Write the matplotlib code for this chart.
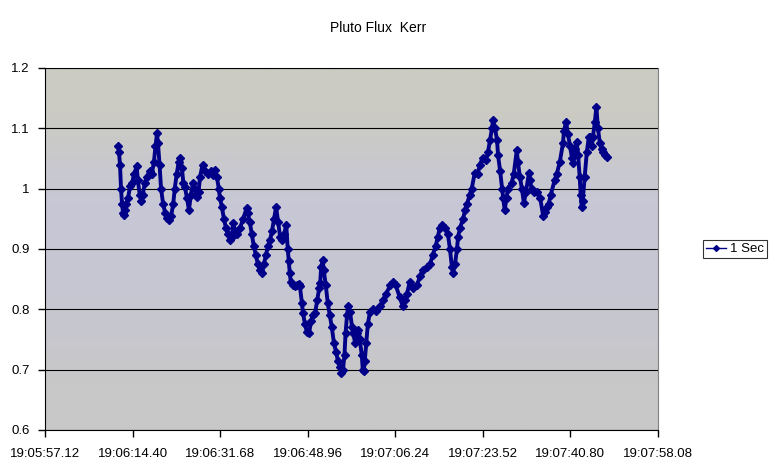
import numpy as np
from matplotlib import pyplot as plt

# seconds after 19:05:57.12
times = [14.4, 14.6, 14.8, 15.0, 15.2, 15.4, 15.6, 15.8, 16.0, 16.4, 16.8, 17.2, 17.6, 18.1,
         18.3, 18.7, 19.0, 19.3, 19.7, 20.1, 20.7, 21.1, 21.5, 21.8, 22.1, 22.3, 22.6, 22.9,
         23.3, 23.7, 24.1, 24.5, 24.9, 25.3, 25.6, 26.0, 26.4, 26.6, 27.0, 27.3, 27.6, 28.0,
         28.4, 28.8, 29.2, 29.6, 30.0, 30.3, 30.6, 31.1, 31.6, 32.2, 32.7, 33.1, 33.5, 33.9,
         34.3, 34.5, 34.9, 35.3, 35.7, 36.1, 36.5, 36.9, 37.1, 37.5, 37.9, 38.5, 39.1, 39.8,
         40.0, 40.4, 40.8, 41.2, 41.6, 42.0, 42.4, 42.8, 43.2, 43.6, 44.0, 44.4, 44.8, 45.2,
         45.6, 46.0, 46.4, 46.8, 47.2, 47.6, 47.9, 48.1, 48.3, 48.5, 48.9, 49.3, 49.7, 50.1,
         50.3, 50.7, 50.9, 51.3, 51.7, 52.1, 52.5, 52.9, 53.3, 53.7, 54.1, 54.3, 54.5, 54.8,
         55.0, 55.4, 55.8, 56.2, 56.6, 57.0, 57.4, 57.8, 58.2, 58.5, 58.8, 59.1, 59.3, 59.6,
         59.8, 60.2, 60.6, 60.8, 61.2, 61.6, 61.7, 62.1, 62.5, 62.7, 62.9, 63.1, 63.4, 63.7,
         64.1, 64.7, 65.3, 66.1, 66.7, 67.3, 68.1, 68.7, 69.2, 70.0, 70.6, 71.0, 71.4, 72.0,
         72.6, 73.4, 74.0, 74.6, 75.4, 76.0, 76.5, 77.1, 77.5, 77.9, 78.3, 78.9, 79.5, 79.9,
         80.3, 80.5, 80.9, 81.3, 81.5, 81.9, 82.5, 82.9, 83.3, 83.8, 84.2, 84.8, 85.4, 85.8,
         86.4, 87.0, 87.4, 87.8, 88.2, 88.4, 88.8, 89.2, 89.4, 89.8, 90.2, 90.4, 90.7, 91.1,
         91.3, 92.1, 92.5, 93.1, 93.3, 93.7, 94.1, 94.5, 94.9, 95.5, 95.7, 96.0, 96.5, 97.1,
         97.7, 98.3, 98.6, 99.0, 99.4, 99.8, 100.6, 101.0, 101.6, 102.2, 102.4, 102.8, 103.2,
         103.6, 104.0, 104.2, 104.6, 104.9, 105.2, 105.5, 105.7, 105.9, 106.1, 106.5, 106.9,
         107.3, 107.5, 107.9, 108.1, 108.5, 108.8, 109.1, 109.5, 109.9, 110.1, 110.5, 110.9]

flux = [1.070, 1.060, 1.040, 1.000, 0.975, 0.960, 0.957, 0.965, 0.975, 0.985, 1.005, 1.010,
        1.025, 1.037, 1.015, 0.990, 0.980, 0.990, 1.010, 1.020, 1.030, 1.025, 1.045, 1.070,
        1.092, 1.075, 1.040, 1.000, 0.975, 0.960, 0.952, 0.948, 0.955, 0.975, 1.000, 1.025,
        1.045, 1.051, 1.035, 1.010, 1.003, 0.985, 0.965, 0.990, 1.010, 1.000, 0.987, 0.995,
        1.020, 1.040, 1.030, 1.025, 1.030, 1.022, 1.031, 1.020, 1.000, 0.985, 0.970, 0.950,
        0.935, 0.925, 0.915, 0.920, 0.943, 0.930, 0.925, 0.935, 0.950, 0.968, 0.960, 0.945,
        0.925, 0.905, 0.890, 0.875, 0.865, 0.861, 0.875, 0.890, 0.905, 0.915, 0.930, 0.950,
        0.970, 0.945, 0.920, 0.915, 0.925, 0.940, 0.900, 0.880, 0.860, 0.845, 0.840, 0.838,
        0.840, 0.842, 0.838, 0.810, 0.794, 0.775, 0.762, 0.760, 0.780, 0.790, 0.794, 0.815,
        0.835, 0.844, 0.870, 0.882, 0.865, 0.840, 0.810, 0.790, 0.770, 0.745, 0.730, 0.715,
        0.705, 0.695, 0.700, 0.725, 0.760, 0.790, 0.805, 0.795, 0.770, 0.760, 0.745, 0.760,
        0.766, 0.750, 0.725, 0.700, 0.697, 0.715, 0.745, 0.775, 0.795, 0.800, 0.797, 0.805,
        0.815, 0.825, 0.840, 0.846, 0.840, 0.820, 0.805, 0.815, 0.825, 0.846, 0.835, 0.840,
        0.855, 0.866, 0.870, 0.875, 0.890, 0.905, 0.920, 0.935, 0.940, 0.935, 0.925, 0.900,
        0.870, 0.860, 0.875, 0.900, 0.920, 0.935, 0.950, 0.965, 0.975, 0.990, 1.000, 1.026,
        1.025, 1.040, 1.051, 1.048, 1.060, 1.080, 1.100, 1.114, 1.100, 1.080, 1.055, 1.030,
        1.000, 0.985, 0.965, 0.985, 1.000, 1.010, 1.025, 1.064, 1.045, 1.020, 1.000, 0.976,
        0.995, 1.026, 1.015, 1.000, 0.995, 0.995, 0.985, 0.955, 0.962, 0.970, 0.975, 0.990,
        1.015, 1.025, 1.045, 1.075, 1.095, 1.111, 1.090, 1.070, 1.050, 1.042, 1.065, 1.078,
        1.055, 1.020, 0.990, 0.970, 0.980, 1.020, 1.060, 1.085, 1.086, 1.070, 1.085, 1.110,
        1.136, 1.100, 1.075, 1.065, 1.060, 1.055, 1.053]

tick_labels = ["19:05:57.12", "19:06:14.40", "19:06:31.68", "19:06:48.96",
               "19:07:06.24", "19:07:23.52", "19:07:40.80", "19:07:58.08"]
tick_step = 17.28

fig = plt.figure(figsize=(7.77, 4.68), dpi=100)
plt.rcParams['font.family'] = ['Liberation Sans', 'DejaVu Sans']
ax = fig.add_axes([45/777, 38/468, 613/777, 362/468])

# Excel style gradient background of the plot area
grad = np.array([[203, 203, 195], [199, 199, 214], [198, 198, 210], [200, 200, 200]]) / 255
ax.imshow(grad[:, None, :], extent=[0, 1, 0, 1], transform=ax.transAxes,
          aspect='auto', interpolation='bilinear', zorder=0)

ax.plot(times, flux, color='#000088', lw=2.8, marker='D', markersize=4.4,
        label='1 Sec', zorder=3)

ax.set_xlim(0, 7 * tick_step)
ax.set_ylim(0.6, 1.2)
ax.set_xticks([i * tick_step for i in range(8)])
ax.set_xticklabels(tick_labels)
ax.set_yticks([0.6, 0.7, 0.8, 0.9, 1.0, 1.1, 1.2])
ax.set_yticklabels(["0.6", "0.7", "0.8", "0.9", "1", "1.1", "1.2"])
ax.tick_params(labelsize=9.5, length=5, width=1, direction='out')
ax.tick_params(axis='x', pad=8)
ax.tick_params(axis='y', pad=6)
ax.yaxis.grid(True, color='black', lw=0.8)
ax.set_axisbelow(False)
for g in ax.get_ygridlines():
    g.set_zorder(1)
ax.spines['top'].set_color('#808080')
ax.spines['right'].set_color('#808080')

fig.text(378/777, 1 - 28/468, "Pluto Flux  Kerr", ha='center', va='center', fontsize=10)

leg = fig.legend(loc='center', bbox_to_anchor=(735/777, 1 - 249/468), fontsize=9.5,
                 frameon=True, fancybox=False, handlelength=1.5, handletextpad=0.3,
                 borderpad=0.25, borderaxespad=0)
leg.get_frame().set_edgecolor('black')
leg.get_frame().set_linewidth(0.8)
for h in leg.legend_handles:
    h.set_linewidth(1)
    h.set_markersize(3)

fig.savefig("out.png", dpi=100)
